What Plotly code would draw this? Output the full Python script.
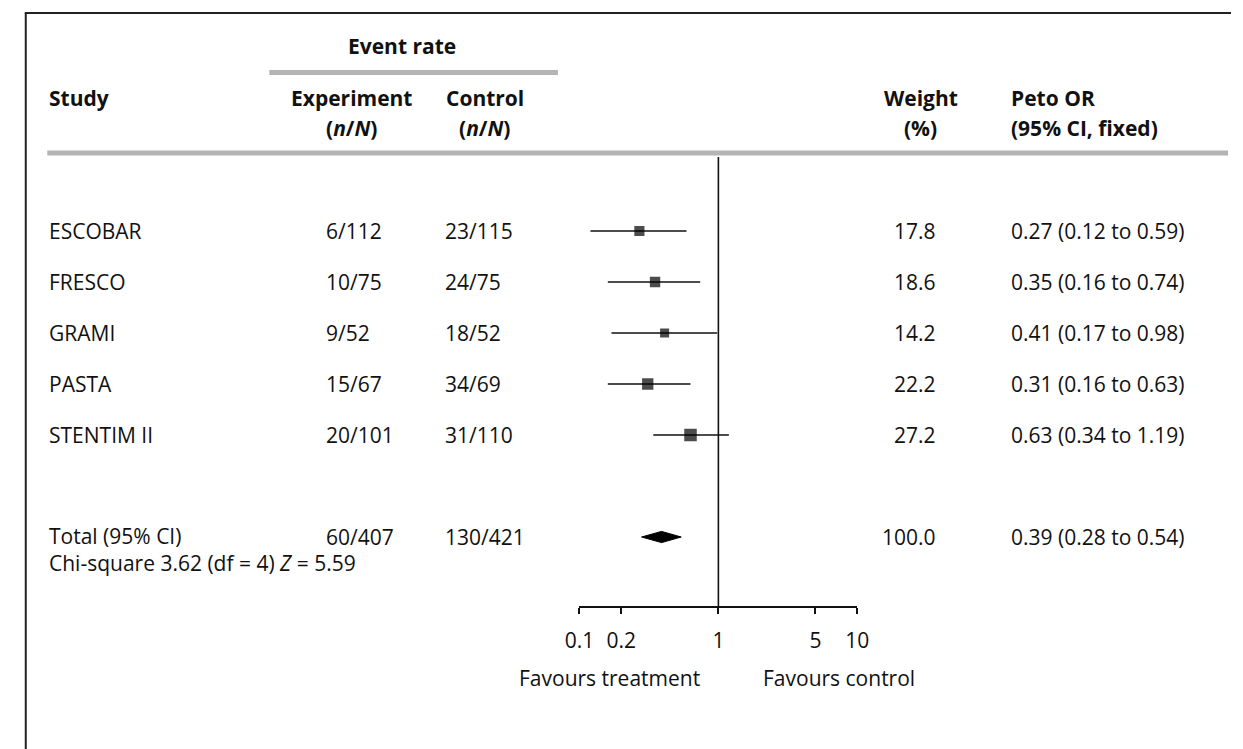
import numpy as np
import plotly.graph_objects as go

# ---- data -------------------------------------------------------------
studies = ["ESCOBAR", "FRESCO", "GRAMI", "PASTA", "STENTIM II"]
exp_events = [6, 10, 9, 15, 20]
exp_totals = [112, 75, 52, 67, 101]
ctrl_events = [23, 24, 18, 34, 31]
ctrl_totals = [115, 75, 52, 69, 110]
weights = [17.8, 18.6, 14.2, 22.2, 27.2]
odds_ratios = [0.27, 0.35, 0.41, 0.31, 0.63]
ci_low = [0.12, 0.16, 0.17, 0.16, 0.34]
ci_high = [0.59, 0.74, 0.98, 0.63, 1.19]

total_label = "Total (95% CI)"
total_exp = (60, 407)
total_ctrl = (130, 421)
total_weight = 100.0
total_or = 0.39
total_ci = (0.28, 0.54)
heterogeneity = "Chi-square 3.62 (df = 4) <i>Z</i> = 5.59"

tick_vals = [0.1, 0.2, 1, 5, 10]
tick_text = ["0.1", "0.2", "1", "5", "10"]
favours_left = "Favours treatment"
favours_right = "Favours control"

# ---- layout helpers ---------------------------------------------------
W, H = 1243, 749
ROW0, ROW_STEP = 231, 51          # pixel centre of first row, row spacing
FONT = "'Gill Sans', 'Open Sans', sans-serif"
INK = "#111111"
GREY = "#b4b4b4"
FS = 21


def px(x):
    return x / W


def py(y):
    return 1 - y / H


rows = list(range(len(studies)))
total_row = len(studies) + 1

fig = go.Figure()

# confidence interval whiskers
for i in rows:
    fig.add_trace(go.Scatter(
        x=[ci_low[i], ci_high[i]], y=[i, i], mode="lines",
        line=dict(color=INK, width=1.6), hoverinfo="skip", showlegend=False))

# study estimates, box size by weight
fig.add_trace(go.Scatter(
    x=odds_ratios, y=rows, mode="markers",
    marker=dict(symbol="square", color="black",
                size=[2.4 * np.sqrt(w) for w in weights], line=dict(width=0)),
    hoverinfo="skip", showlegend=False))

# pooled estimate diamond
dh = 0.11
fig.add_trace(go.Scatter(
    x=[total_ci[0], total_or, total_ci[1], total_or, total_ci[0]],
    y=[total_row, total_row - dh, total_row, total_row + dh, total_row],
    mode="lines", fill="toself", fillcolor="black",
    line=dict(color="black", width=1), hoverinfo="skip", showlegend=False))

ann = []


def text(x, y, s, anchor="left", bold=False, yref="paper", size=FS,
         yanchor="middle"):
    if bold:
        s = f"<b>{s}</b>"
    ann.append(dict(x=px(x), y=y, xref="paper", yref=yref, text=s,
                    showarrow=False, xanchor=anchor, yanchor=yanchor,
                    align=anchor if anchor != "center" else "center",
                    font=dict(family=FONT, size=size, color=INK)))


# column headers
text(396, py(46), "Event rate", "center", True)
text(33, py(98), "Study", "left", True)
text(344, py(98), "Experiment", "center", True)
text(344, py(128), "(<i>n</i>/<i>N</i>)", "center", True)
text(480, py(98), "Control", "center", True)
text(480, py(128), "(<i>n</i>/<i>N</i>)", "center", True)
text(926, py(98), "Weight", "center", True)
text(926, py(128), "(%)", "center", True)
text(1016, py(98), "Peto OR", "left", True)
text(1016, py(128), "(95% CI, fixed)", "left", True)

# study rows
for i in rows:
    text(33, i, studies[i], "left", yref="y")
    text(316, i, f"{exp_events[i]}/{exp_totals[i]}", "left", yref="y")
    text(438, i, f"{ctrl_events[i]}/{ctrl_totals[i]}", "left", yref="y")
    text(944, i, f"{weights[i]:.1f}", "right", yref="y")
    text(1016, i, f"{odds_ratios[i]:.2f} ({ci_low[i]:.2f} to {ci_high[i]:.2f})",
         "left", yref="y")

# pooled row: label and heterogeneity test share one two-line block
text(33, py(520), f"{total_label}<br>{heterogeneity}", "left", yanchor="top")
text(316, total_row, f"{total_exp[0]}/{total_exp[1]}", "left", yref="y")
text(438, total_row, f"{total_ctrl[0]}/{total_ctrl[1]}", "left", yref="y")
text(944, total_row, f"{total_weight:.1f}", "right", yref="y")
text(1016, total_row,
     f"{total_or:.2f} ({total_ci[0]:.2f} to {total_ci[1]:.2f})", "left", yref="y")

# favours labels
text(608, py(678), favours_left, "center")
text(842, py(678), favours_right, "center")

AXIS_Y = 607
shapes = [
    # frame
    dict(type="line", xref="paper", yref="paper", x0=px(10), x1=1,
         y0=py(13), y1=py(13), line=dict(color="#222", width=2)),
    dict(type="line", xref="paper", yref="paper", x0=px(11), x1=px(11),
         y0=py(13), y1=0, line=dict(color="#222", width=2)),
    # header rules
    dict(type="line", xref="paper", yref="paper", x0=px(260), x1=px(555),
         y0=py(72.5), y1=py(72.5), line=dict(color=GREY, width=5)),
    dict(type="line", xref="paper", yref="paper", x0=px(33), x1=px(1240),
         y0=py(153), y1=py(153), line=dict(color=GREY, width=5)),
    # line of no effect
    dict(type="line", xref="x", yref="paper", x0=1, x1=1,
         y0=py(AXIS_Y), y1=py(157), line=dict(color=INK, width=1.6)),
]

y_top = -ROW0 / ROW_STEP
y_bot = (H - ROW0) / ROW_STEP

fig.update_layout(
    width=W, height=H,
    margin=dict(l=0, r=0, t=0, b=0),
    paper_bgcolor="white", plot_bgcolor="white",
    showlegend=False,
    annotations=ann, shapes=shapes,
    xaxis=dict(
        type="log", range=[-1, 1], domain=[px(577), px(861)],
        anchor="free", position=py(AXIS_Y),
        tickvals=tick_vals, ticktext=tick_text,
        showline=True, linecolor=INK, linewidth=1.6,
        ticks="outside", ticklen=6, tickwidth=1.6, tickcolor=INK,
        ticklabelstandoff=9,
        tickfont=dict(family=FONT, size=FS, color=INK),
        showgrid=False, zeroline=False, fixedrange=True),
    yaxis=dict(range=[y_bot, y_top], domain=[0, 1], visible=False,
               showgrid=False, zeroline=False, fixedrange=True),
)

fig.write_html("out.html")
